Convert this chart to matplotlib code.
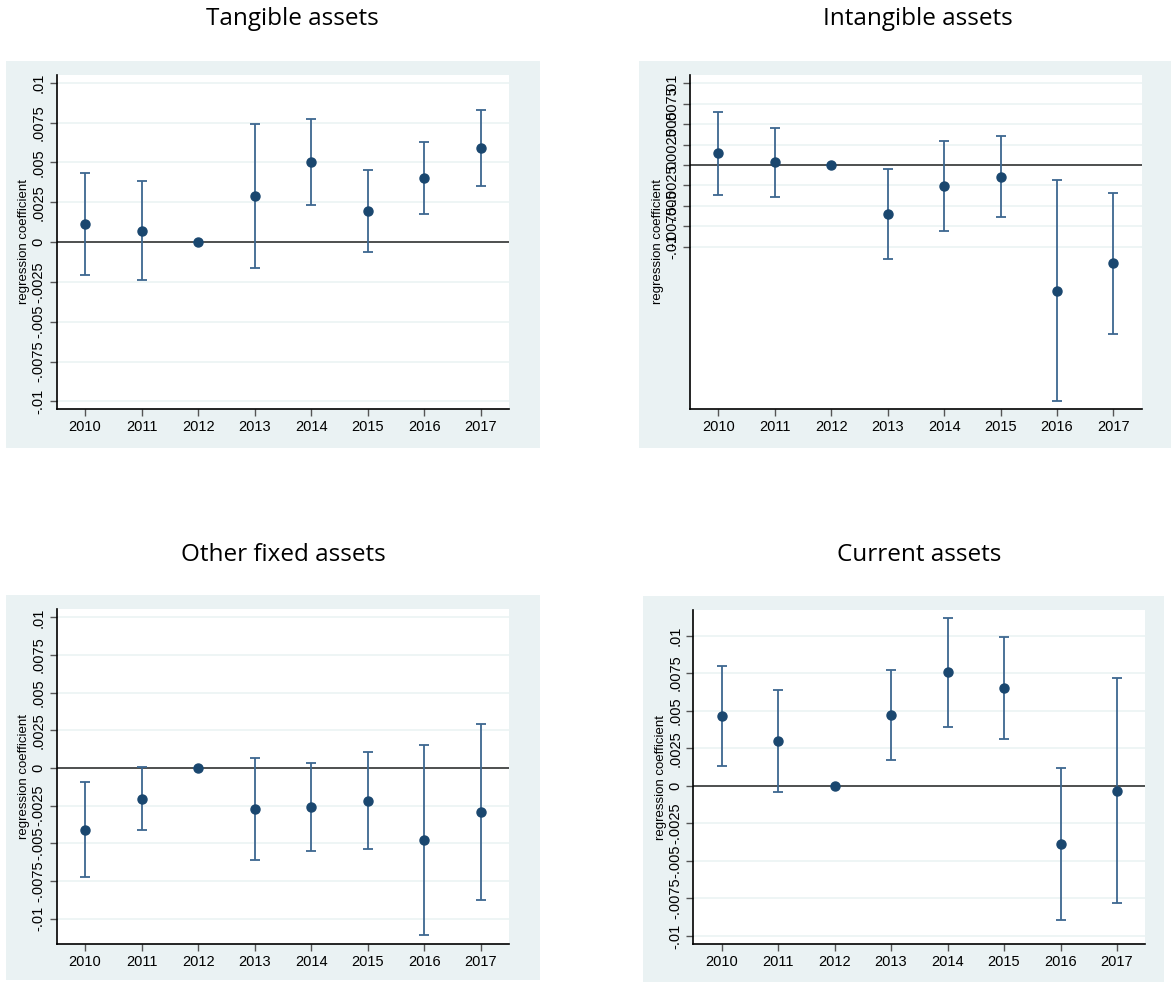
import numpy as np
import matplotlib.pyplot as plt
from matplotlib.patches import Rectangle

# ------------------------------
# Data
# ------------------------------
years = [2010, 2011, 2012, 2013, 2014, 2015, 2016, 2017]

tangible_coef = [0.00115, 0.00069, 0.0, 0.00287, 0.00501, 0.00195, 0.0040, 0.00591]
tangible_hi = [0.00434, 0.00382, 0.0, 0.0074, 0.00774, 0.00453, 0.00627, 0.00828]
tangible_lo = [-0.00205, -0.00239, 0.0, -0.00166, 0.00233, -0.00061, 0.00176, 0.00354]

intangible_coef = [0.00143, 0.00033, 0.0, -0.0060, -0.00257, -0.00143, -0.01538, -0.01203]
intangible_hi = [0.00648, 0.00449, 0.0, -0.00049, 0.00298, 0.00351, -0.00188, -0.00339]
intangible_lo = [-0.00363, -0.00387, 0.0, -0.01146, -0.00812, -0.00636, -0.02887, -0.02068]

other_coef = [-0.00412, -0.00204, 0.0, -0.00272, -0.00261, -0.00217, -0.00478, -0.00292]
other_hi = [-0.00095, 0.00009, 0.0, 0.00069, 0.00033, 0.00106, 0.00153, 0.00295]
other_lo = [-0.00726, -0.00414, 0.0, -0.00611, -0.00554, -0.0054, -0.01112, -0.00877]

current_coef = [0.00464, 0.00297, 0.0, 0.00468, 0.00755, 0.00653, -0.00388, -0.00033]
current_hi = [0.00795, 0.00637, 0.0, 0.00768, 0.01119, 0.00992, 0.0012, 0.00717]
current_lo = [0.00133, -0.0004, 0.0, 0.00169, 0.00393, 0.00311, -0.00897, -0.00784]

titles = ["Tangible assets", "Intangible assets", "Other fixed assets", "Current assets"]
ytick_vals = [-0.01, -0.0075, -0.005, -0.0025, 0, 0.0025, 0.005, 0.0075, 0.01]
ytick_labels = ["-.01", "-.0075", "-.005", "-.0025", "0", ".0025", ".005", ".0075", ".01"]

# ------------------------------
# Layout (pixels)
# ------------------------------
W, H = 1171, 982
BG = "#EAF2F3"
NAVY = "#1a476f"
BAR = "#3d6790"

panels = [
    dict(coef=tangible_coef, hi=tangible_hi, lo=tangible_lo, ylim=(-0.0105, 0.0105),
         ax=(56.7, 509.3, 74.7, 409.3), bg=(6, 540, 61, 448), title=(292, 19)),
    dict(coef=intangible_coef, hi=intangible_hi, lo=intangible_lo, ylim=(-0.0299, 0.01105),
         ax=(690, 1141.7, 74.7, 409.3), bg=(639, 1171, 61, 448), title=(918, 19)),
    dict(coef=other_coef, hi=other_hi, lo=other_lo, ylim=(-0.01167, 0.01056),
         ax=(56.7, 509.3, 609, 943.7), bg=(6, 540, 595, 980), title=(283, 555)),
    dict(coef=current_coef, hi=current_hi, lo=current_lo, ylim=(-0.01054, 0.0117),
         ax=(693.3, 1145.3, 610, 944), bg=(643, 1164, 596, 982), title=(919, 555)),
]

fig = plt.figure(figsize=(W / 100, H / 100), dpi=100)

for p, title in zip(panels, titles):
    x0, x1, y0, y1 = p["bg"]
    fig.patches.append(Rectangle((x0 / W, 1 - y1 / H), (x1 - x0) / W, (y1 - y0) / H,
                                 transform=fig.transFigure, facecolor=BG,
                                 edgecolor="none", zorder=-1))
    fig.text(p["title"][0] / W, 1 - p["title"][1] / H, title, ha="center", va="center",
             fontsize=17.5, family="Open Sans", color="black")

    l, r, t, b = p["ax"]
    ax = fig.add_axes([l / W, 1 - b / H, (r - l) / W, (b - t) / H])
    ax.set_facecolor("white")

    coef = np.array(p["coef"])
    err = np.vstack([coef - np.array(p["lo"]), np.array(p["hi"]) - coef])
    ax.axhline(0, color="#222222", lw=1.1, zorder=2)
    ax.errorbar(years, coef, yerr=err, fmt="none", ecolor=BAR, elinewidth=1.3,
                capsize=3.5, capthick=1.3, zorder=3)
    ax.plot(years, coef, "o", color=NAVY, markersize=6.5, zorder=4)

    ax.set_xlim(2009.5, 2017.5)
    ax.set_ylim(*p["ylim"])
    ax.set_xticks(years)
    ax.set_xticklabels([str(y) for y in years], family="Liberation Sans", fontsize=10.5)
    ax.set_yticks(ytick_vals)
    ax.set_yticklabels(ytick_labels, rotation=90, va="center",
                       family="Liberation Sans", fontsize=10.5)
    ax.set_ylabel("regression coefficient", family="Liberation Sans", fontsize=9.5,
                  labelpad=1)
    ax.grid(axis="y", color=BG, lw=1.1)
    ax.set_axisbelow(True)
    ax.tick_params(axis="both", direction="out", length=5, width=1, color="#555555",
                   pad=3)
    ax.spines["top"].set_visible(False)
    ax.spines["right"].set_visible(False)
    ax.spines["left"].set_linewidth(1.2)
    ax.spines["bottom"].set_linewidth(1.2)

fig.savefig("out.png", dpi=100)
